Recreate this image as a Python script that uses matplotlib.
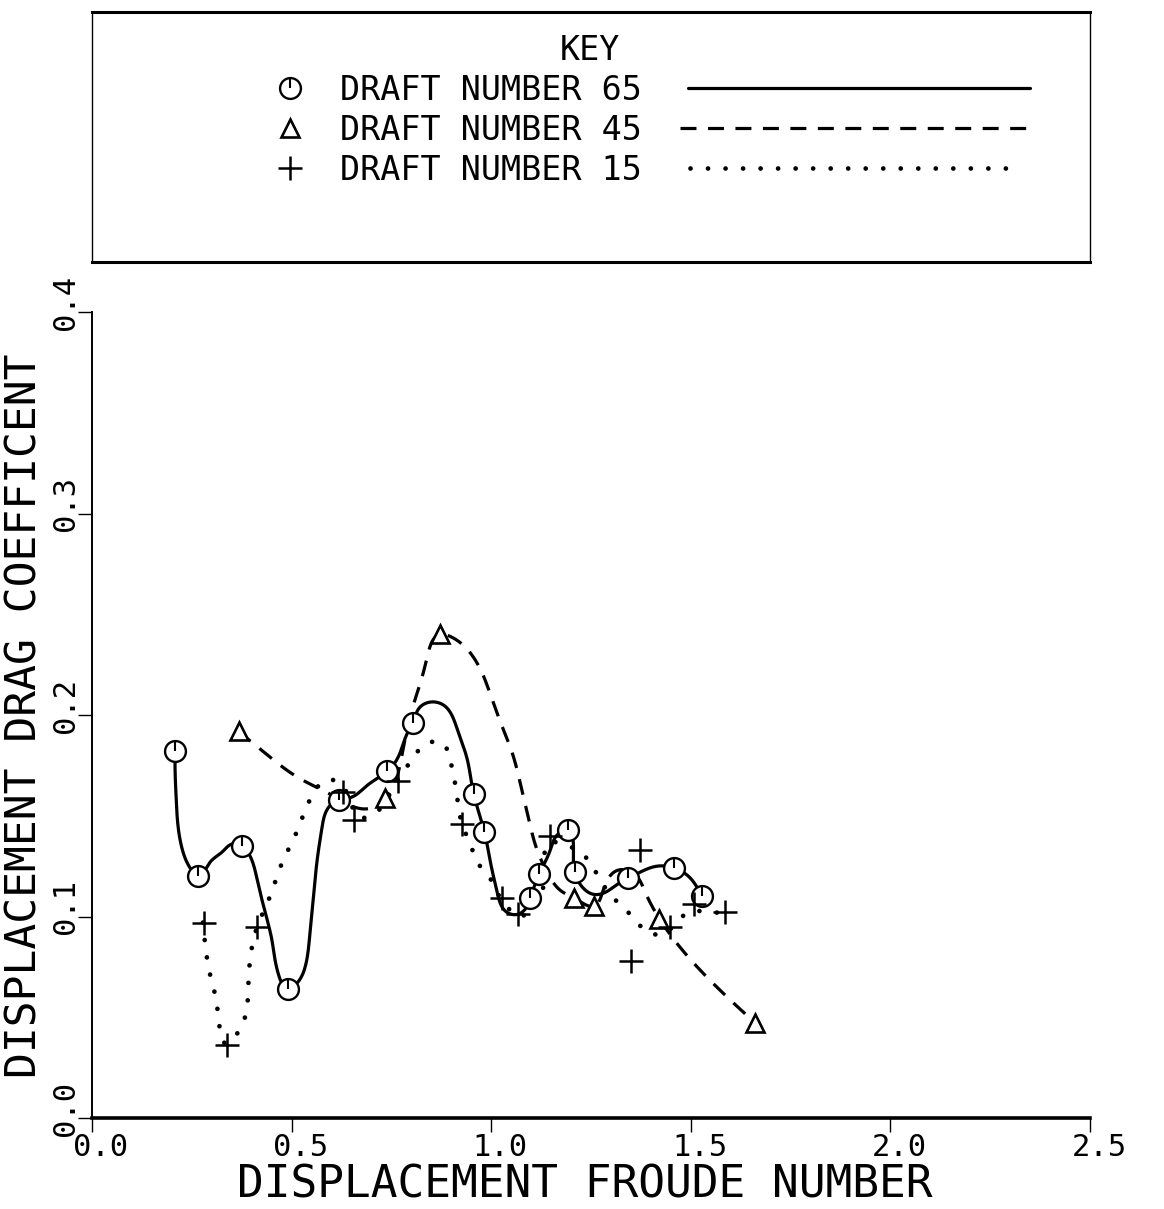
import numpy as np
import matplotlib
matplotlib.use('Agg')
import matplotlib.pyplot as plt
from matplotlib.path import Path
from matplotlib.transforms import ScaledTranslation

plt.rcParams['font.family'] = ['DejaVu Sans Mono', 'DejaVu Sans']

# draft number 65 (circles, solid)
d65_x = [0.208, 0.266, 0.375, 0.492, 0.619, 0.739, 0.803, 0.956, 0.983, 1.098,
         1.120, 1.192, 1.209, 1.343, 1.459, 1.528]
d65_y = [0.182, 0.120, 0.135, 0.064, 0.158, 0.172, 0.196, 0.161, 0.142, 0.109,
         0.121, 0.143, 0.122, 0.119, 0.124, 0.110]
d65_curve_x = [0.208, 0.208, 0.211, 0.216, 0.228, 0.246, 0.266, 0.296, 0.326, 0.351,
               0.375, 0.396, 0.414, 0.434, 0.451, 0.466, 0.492, 0.514, 0.534, 0.546,
               0.554, 0.564, 0.576, 0.592, 0.619, 0.647, 0.689, 0.739, 0.764, 0.790,
               0.803, 0.822, 0.852, 0.880, 0.915, 0.940, 0.956, 0.983, 0.998, 1.015,
               1.040, 1.065, 1.090, 1.098, 1.120, 1.148, 1.168, 1.192, 1.206, 1.209,
               1.231, 1.256, 1.286, 1.316, 1.343, 1.373, 1.416, 1.459, 1.494, 1.528]
d65_curve_y = [0.182, 0.174, 0.158, 0.144, 0.132, 0.124, 0.120, 0.127, 0.132, 0.136,
               0.135, 0.130, 0.118, 0.102, 0.088, 0.072, 0.064, 0.067, 0.075, 0.092,
               0.108, 0.128, 0.144, 0.154, 0.158, 0.159, 0.165, 0.172, 0.178, 0.191,
               0.196, 0.204, 0.2065, 0.205, 0.193, 0.178, 0.161, 0.142, 0.127, 0.112,
               0.102, 0.101, 0.105, 0.109, 0.121, 0.133, 0.141, 0.143, 0.133, 0.122,
               0.114, 0.111, 0.112, 0.116, 0.119, 0.122, 0.125, 0.124, 0.120, 0.110]

# draft number 45 (triangles, dashed)
d45_x = [0.367, 0.734, 0.872, 1.208, 1.258, 1.421, 1.662]
d45_y = [0.192, 0.159, 0.240, 0.109, 0.105, 0.099, 0.047]
d45_curve_x = [0.366, 0.434, 0.516, 0.564, 0.622, 0.662, 0.702, 0.734, 0.759, 0.779,
               0.802, 0.835, 0.872, 0.915, 0.947, 0.977, 1.000, 1.028, 1.053, 1.073,
               1.093, 1.115, 1.140, 1.173, 1.208, 1.258, 1.286, 1.318, 1.353, 1.386,
               1.421, 1.662]
d45_curve_y = [0.192, 0.181, 0.169, 0.164, 0.158, 0.154, 0.154, 0.159, 0.167, 0.183,
               0.203, 0.225, 0.240, 0.237, 0.231, 0.221, 0.209, 0.194, 0.181, 0.166,
               0.149, 0.133, 0.122, 0.113, 0.109, 0.105, 0.116, 0.123, 0.122, 0.112,
               0.099, 0.047]

# draft number 15 (plus, dotted)
d15_x = [0.281, 0.339, 0.413, 0.628, 0.657, 0.767, 0.926, 1.027, 1.068, 1.148,
         1.351, 1.372, 1.447, 1.507, 1.585]
d15_y = [0.097, 0.036, 0.095, 0.162, 0.148, 0.167, 0.146, 0.109, 0.101, 0.140,
         0.078, 0.133, 0.095, 0.106, 0.102]
d15_curve_x = [0.278, 0.296, 0.313, 0.338, 0.373, 0.391, 0.414, 0.446, 0.479, 0.504,
               0.539, 0.596, 0.634, 0.672, 0.714, 0.754, 0.802, 0.840, 0.877, 0.897,
               0.912, 0.927, 0.947, 0.972, 0.997, 1.023, 1.048, 1.070, 1.093, 1.128,
               1.155, 1.178, 1.223, 1.268, 1.298, 1.353, 1.381, 1.424, 1.494, 1.556,
               1.586]
d15_curve_y = [0.097, 0.071, 0.056, 0.037, 0.045, 0.063, 0.095, 0.110, 0.128, 0.138,
               0.155, 0.168, 0.163, 0.149, 0.152, 0.164, 0.178, 0.186, 0.186, 0.178,
               0.163, 0.146, 0.136, 0.125, 0.119, 0.109, 0.103, 0.100, 0.102, 0.112,
               0.137, 0.136, 0.132, 0.120, 0.111, 0.100, 0.094, 0.091, 0.102, 0.102,
               0.102]

x_ticks = [0.0, 0.5, 1.0, 1.5, 2.0, 2.5]
y_ticks = [0.0, 0.1, 0.2, 0.3, 0.4]
series_names = ['DRAFT NUMBER 65', 'DRAFT NUMBER 45', 'DRAFT NUMBER 15']


def smooth(xs, ys, n=1200):
    # parametric natural cubic spline, chord length taken in plot-space units
    p = np.column_stack([np.asarray(xs) * 400.0, np.asarray(ys) * 2000.0])
    t = np.concatenate([[0.0], np.cumsum(np.hypot(*np.diff(p, axis=0).T))])
    h = np.diff(t)
    m = len(t)
    A = np.zeros((m, m))
    A[0, 0] = A[-1, -1] = 1.0
    for i in range(1, m - 1):
        A[i, i - 1:i + 2] = [h[i - 1], 2 * (h[i - 1] + h[i]), h[i]]
    tt = np.linspace(0, t[-1], n)
    k = np.clip(np.searchsorted(t, tt, side='right') - 1, 0, m - 2)
    a = t[k + 1] - tt
    b = tt - t[k]
    hk = h[k]
    out = []
    for v in p.T:
        r = np.zeros(m)
        dv = np.diff(v) / h
        r[1:-1] = 6 * (dv[1:] - dv[:-1])
        M = np.linalg.solve(A, r)
        s = (M[k] * a**3 + M[k + 1] * b**3) / (6 * hk) \
            + (v[k] / hk - M[k] * hk / 6) * a + (v[k + 1] / hk - M[k + 1] * hk / 6) * b
        out.append(s)
    return out[0] / 400.0, out[1] / 2000.0


W, H = 1164, 1209
fig = plt.figure(figsize=(W / 100, H / 100), dpi=100)
ax = fig.add_axes([92 / W, 1 - 1118 / H, 998 / W, 806 / H])

tick_mark = Path([(0, 0), (0, 1)], [Path.MOVETO, Path.LINETO])
solid_kw = dict(color='black', lw=2.3, ls='-', solid_capstyle='round')
dash_kw = dict(color='black', lw=2.3, ls=(0, (5, 3.6)), dash_capstyle='butt')
dot_kw = dict(color='black', lw=3.4, ls=(0, (0.01, 3.7)), dash_capstyle='round')


def circles(axis, x, y, ms=15):
    axis.plot(x, y, 'o', ms=ms, mfc='white', mec='black', mew=1.7, zorder=5)
    axis.plot(x, y, ls='none', marker=tick_mark, ms=ms, mec='black', mew=1.5, zorder=6)


def triangles(axis, x, y, ms=13):
    axis.plot(x, y, '^', ms=ms, mfc='white', mec='black', mew=1.9, zorder=5)


def pluses(axis, x, y, ms=17):
    axis.plot(x, y, '+', ms=ms, mec='black', mew=1.8, zorder=5)


sx, sy = smooth(d65_curve_x, d65_curve_y)
ax.plot(sx, sy, zorder=3, **solid_kw)
circles(ax, d65_x, d65_y)

sx, sy = smooth(d45_curve_x, d45_curve_y)
ax.plot(sx, sy, zorder=3, **dash_kw)
triangles(ax, d45_x, d45_y)

sx, sy = smooth(d15_curve_x, d15_curve_y)
ax.plot(sx, sy, zorder=3, **dot_kw)
pluses(ax, d15_x, d15_y)

ax.set_xlim(0, 2.5)
ax.set_ylim(0, 0.4)
for s in ['top', 'right']:
    ax.spines[s].set_visible(False)
ax.spines['left'].set_linewidth(1.4)
ax.spines['bottom'].set_linewidth(2.6)

ax.set_xticks(x_ticks)
ax.set_xticklabels([f'{v:.1f}' for v in x_ticks], fontsize=22)
ax.set_yticks(y_ticks)
ax.set_yticklabels([f'{v:.1f}' for v in y_ticks], fontsize=22, rotation=90, va='center')
ax.tick_params(direction='out', length=10, width=1.0)
ax.tick_params(axis='x', pad=1)
ax.tick_params(axis='y', pad=-1.5)
for lab in ax.get_xticklabels():
    lab.set_transform(lab.get_transform() + ScaledTranslation(0.09, 0, fig.dpi_scale_trans))
for lab in ax.get_yticklabels():
    lab.set_transform(lab.get_transform() + ScaledTranslation(0, 0.10, fig.dpi_scale_trans))

fig.text(585 / W, 1 - 1198 / H, 'DISPLACEMENT FROUDE NUMBER', fontsize=32,
         ha='center', va='baseline')
fig.text(37 / W, 1 - 716 / H, 'DISPLACEMENT DRAG COEFFICENT', fontsize=31,
         rotation=90, rotation_mode='anchor', ha='center', va='baseline')

# key box drawn in pixel coordinates
key = fig.add_axes([0, 0, 1, 1], zorder=-1)
key.set_xlim(0, W)
key.set_ylim(H, 0)
key.axis('off')
key.plot([92, 1090], [12, 12], color='black', lw=2.2)
key.plot([92, 1090], [262, 262], color='black', lw=2.2)
key.plot([92, 92], [12, 262], color='black', lw=1.0)
key.plot([1090, 1090], [12, 262], color='black', lw=1.0)
key.text(590, 60, 'KEY', fontsize=24, ha='center', va='baseline')

rows = [88, 128, 168]
markers = [circles, triangles, pluses]
styles = [solid_kw, dash_kw, dot_kw]
line_x = [(688, 1030), (680, 1030), (690, 1020)]
for yy, name, mk, st, (x0, x1) in zip(rows, series_names, markers, styles, line_x):
    mk(key, [290], [yy])
    key.text(340, yy + 12, name, fontsize=24, ha='left', va='baseline')
    key.plot([x0, x1], [yy, yy], **st)

fig.savefig('out.png', dpi=100)
